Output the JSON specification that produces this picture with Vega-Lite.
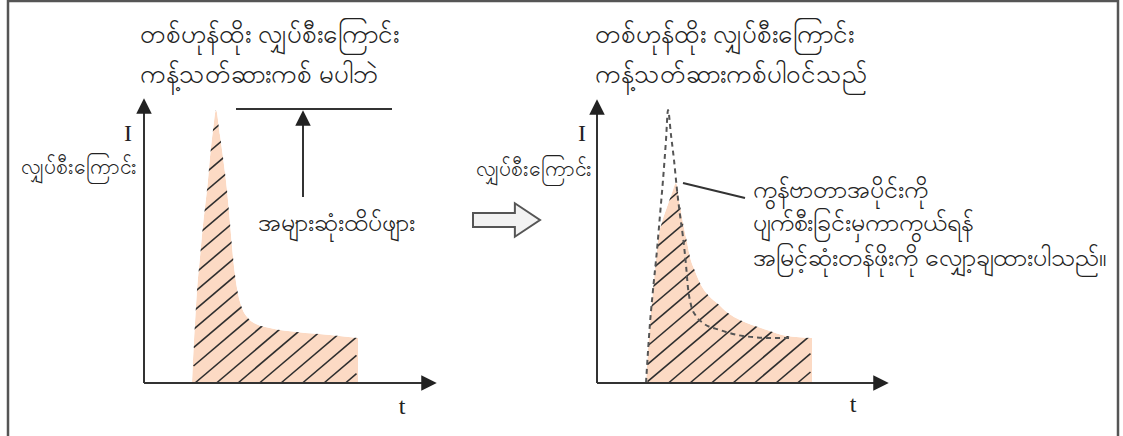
{
  "$schema": "https://vega.github.io/schema/vega-lite/v6.json",
  "width": 1123,
  "height": 436,
  "padding": 0,
  "autosize": "none",
  "background": "white",
  "config": {"view": {"stroke": null}},
  "datasets": {
    "curve": [
      {"panel": "A", "x": 192, "y": 383}, {"panel": "A", "x": 194, "y": 340}, {"panel": "A", "x": 195, "y": 323},
      {"panel": "A", "x": 197, "y": 290}, {"panel": "A", "x": 200, "y": 257}, {"panel": "A", "x": 203, "y": 225},
      {"panel": "A", "x": 205, "y": 207}, {"panel": "A", "x": 208, "y": 180}, {"panel": "A", "x": 210, "y": 157},
      {"panel": "A", "x": 213, "y": 130}, {"panel": "A", "x": 216, "y": 110}, {"panel": "A", "x": 220, "y": 135},
      {"panel": "A", "x": 224, "y": 165}, {"panel": "A", "x": 227, "y": 190}, {"panel": "A", "x": 230, "y": 223},
      {"panel": "A", "x": 233, "y": 257}, {"panel": "A", "x": 237, "y": 288}, {"panel": "A", "x": 242, "y": 308},
      {"panel": "A", "x": 248, "y": 318}, {"panel": "A", "x": 256, "y": 324}, {"panel": "A", "x": 270, "y": 328},
      {"panel": "A", "x": 297, "y": 332}, {"panel": "A", "x": 330, "y": 335}, {"panel": "A", "x": 358, "y": 338},
      {"panel": "B", "x": 646, "y": 383}, {"panel": "B", "x": 648, "y": 350}, {"panel": "B", "x": 650, "y": 323},
      {"panel": "B", "x": 653, "y": 290}, {"panel": "B", "x": 656, "y": 260}, {"panel": "B", "x": 658, "y": 240},
      {"panel": "B", "x": 662, "y": 222}, {"panel": "B", "x": 667, "y": 207}, {"panel": "B", "x": 672, "y": 193},
      {"panel": "B", "x": 676, "y": 183}, {"panel": "B", "x": 680, "y": 205}, {"panel": "B", "x": 683, "y": 223},
      {"panel": "B", "x": 687, "y": 242}, {"panel": "B", "x": 690, "y": 257}, {"panel": "B", "x": 695, "y": 271},
      {"panel": "B", "x": 700, "y": 283}, {"panel": "B", "x": 710, "y": 297}, {"panel": "B", "x": 717, "y": 303},
      {"panel": "B", "x": 728, "y": 313}, {"panel": "B", "x": 740, "y": 320}, {"panel": "B", "x": 755, "y": 326},
      {"panel": "B", "x": 767, "y": 330}, {"panel": "B", "x": 787, "y": 336}, {"panel": "B", "x": 812, "y": 338}
    ],
    "hatch": [
      {"x": 193.5, "y": 128.4, "x2": 215.2, "y2": 110}, {"x": 193.5, "y": 146.7, "x2": 236.7, "y2": 110},
      {"x": 193.5, "y": 165.0, "x2": 258.2, "y2": 110}, {"x": 193.5, "y": 183.2, "x2": 279.7, "y2": 110},
      {"x": 193.5, "y": 201.5, "x2": 301.2, "y2": 110}, {"x": 193.5, "y": 219.8, "x2": 322.7, "y2": 110},
      {"x": 193.5, "y": 238.1, "x2": 344.2, "y2": 110}, {"x": 193.5, "y": 256.3, "x2": 356.5, "y2": 117.8},
      {"x": 193.5, "y": 274.6, "x2": 356.5, "y2": 136.1}, {"x": 193.5, "y": 292.9, "x2": 356.5, "y2": 154.4},
      {"x": 193.5, "y": 311.2, "x2": 356.5, "y2": 172.7}, {"x": 193.5, "y": 329.4, "x2": 356.5, "y2": 190.9},
      {"x": 193.5, "y": 347.7, "x2": 356.5, "y2": 209.2}, {"x": 193.5, "y": 366.0, "x2": 356.5, "y2": 227.5},
      {"x": 195, "y": 383, "x2": 356.5, "y2": 245.8}, {"x": 216.5, "y": 383, "x2": 356.5, "y2": 264.0},
      {"x": 238, "y": 383, "x2": 356.5, "y2": 282.3}, {"x": 259.5, "y": 383, "x2": 356.5, "y2": 300.6},
      {"x": 281, "y": 383, "x2": 356.5, "y2": 318.9}, {"x": 302.5, "y": 383, "x2": 356.5, "y2": 337.1},
      {"x": 324, "y": 383, "x2": 356.5, "y2": 355.4}, {"x": 345.5, "y": 383, "x2": 356.5, "y2": 373.7},
      {"x": 647.5, "y": 199.8, "x2": 667.3, "y2": 183}, {"x": 647.5, "y": 218.1, "x2": 688.8, "y2": 183},
      {"x": 647.5, "y": 236.4, "x2": 710.3, "y2": 183}, {"x": 647.5, "y": 254.6, "x2": 731.8, "y2": 183},
      {"x": 647.5, "y": 272.9, "x2": 753.3, "y2": 183}, {"x": 647.5, "y": 291.2, "x2": 774.8, "y2": 183},
      {"x": 647.5, "y": 309.5, "x2": 796.3, "y2": 183}, {"x": 647.5, "y": 327.7, "x2": 810.5, "y2": 189.2},
      {"x": 647.5, "y": 346.0, "x2": 810.5, "y2": 207.5}, {"x": 647.5, "y": 364.3, "x2": 810.5, "y2": 225.8},
      {"x": 647.5, "y": 381.7, "x2": 810.5, "y2": 244.1}, {"x": 668.5, "y": 383, "x2": 810.5, "y2": 262.3},
      {"x": 690, "y": 383, "x2": 810.5, "y2": 280.6}, {"x": 711.5, "y": 383, "x2": 810.5, "y2": 298.9},
      {"x": 733, "y": 383, "x2": 810.5, "y2": 317.2}, {"x": 754.5, "y": 383, "x2": 810.5, "y2": 335.4},
      {"x": 776, "y": 383, "x2": 810.5, "y2": 353.7}, {"x": 797.5, "y": 383, "x2": 810.5, "y2": 372.0}
    ],
    "dashed": [
      {"x": 646, "y": 383}, {"x": 650, "y": 323}, {"x": 653, "y": 290}, {"x": 657, "y": 250},
      {"x": 660, "y": 215}, {"x": 663, "y": 180}, {"x": 666, "y": 140}, {"x": 668, "y": 110},
      {"x": 671, "y": 135}, {"x": 674, "y": 160}, {"x": 677, "y": 190}, {"x": 680, "y": 215},
      {"x": 683, "y": 237}, {"x": 686, "y": 265}, {"x": 688, "y": 288}, {"x": 691, "y": 305},
      {"x": 696, "y": 316}, {"x": 703, "y": 323}, {"x": 720, "y": 330}, {"x": 743, "y": 336},
      {"x": 773, "y": 338}, {"x": 792, "y": 338}
    ],
    "lines": [
      {"kind": "border", "x": 8, "y": 0, "x2": 8, "y2": 436},
      {"kind": "border", "x": 1118, "y": 0, "x2": 1118, "y2": 436},
      {"kind": "border", "x": 8, "y": 1, "x2": 1118, "y2": 1},
      {"kind": "axis", "x": 144, "y": 383, "x2": 144, "y2": 112},
      {"kind": "axis", "x": 144, "y": 383, "x2": 424, "y2": 383},
      {"kind": "axis", "x": 597, "y": 383, "x2": 597, "y2": 113},
      {"kind": "axis", "x": 597, "y": 383, "x2": 876, "y2": 383},
      {"kind": "note", "x": 236, "y": 109, "x2": 392, "y2": 109},
      {"kind": "note", "x": 303, "y": 197, "x2": 303, "y2": 122},
      {"kind": "note", "x": 683, "y": 183, "x2": 745, "y2": 198}
    ],
    "heads": [
      {"dir": "up", "x": 144, "y": 106},
      {"dir": "right", "x": 429, "y": 383},
      {"dir": "up", "x": 597, "y": 107},
      {"dir": "right", "x": 881, "y": 383},
      {"dir": "up", "x": 303, "y": 118}
    ],
    "bigarrow": [{"x": 506.5, "y": 220}],
    "texts": [
      {"role": "title", "x": 140, "y": 35, "text": "တစ်ဟုန်ထိုး လျှပ်စီးကြောင်း"},
      {"role": "title", "x": 140, "y": 75, "text": "ကန့်သတ်ဆားကစ် မပါဘဲ"},
      {"role": "title", "x": 595, "y": 35, "text": "တစ်ဟုန်ထိုး လျှပ်စီးကြောင်း"},
      {"role": "title", "x": 595, "y": 75, "text": "ကန့်သတ်ဆားကစ်ပါဝင်သည်"},
      {"role": "ylab", "x": 137, "y": 168, "text": "လျှပ်စီးကြောင်း"},
      {"role": "ylab", "x": 592, "y": 170, "text": "လျှပ်စီးကြောင်း"},
      {"role": "note", "x": 258, "y": 223, "text": "အများဆုံးထိပ်ဖျား"},
      {"role": "note", "x": 753, "y": 190, "text": "ကွန်ဗာတာအပိုင်းကို"},
      {"role": "note", "x": 753, "y": 223, "text": "ပျက်စီးခြင်းမှကာကွယ်ရန်"},
      {"role": "note", "x": 753, "y": 258, "text": "အမြင့်ဆုံးတန်ဖိုးကို လျှော့ချထားပါသည်။"},
      {"role": "sym", "x": 128, "y": 134, "text": "I"},
      {"role": "sym", "x": 582, "y": 134, "text": "I"},
      {"role": "sym", "x": 402, "y": 407, "text": "t"},
      {"role": "sym", "x": 853, "y": 405, "text": "t"}
    ]
  },
  "layer": [
    {
      "data": {"name": "curve"},
      "mark": {"type": "area", "interpolate": "monotone", "color": "#fcdac4", "opacity": 1},
      "encoding": {
        "x": {"field": "x", "type": "quantitative", "scale": {"domain": [0, 1123], "nice": false, "zero": false}, "axis": null},
        "y": {"field": "y", "type": "quantitative", "scale": {"domain": [0, 436], "nice": false, "zero": false, "reverse": true}, "axis": null},
        "y2": {"datum": 383},
        "detail": {"field": "panel"}
      }
    },
    {
      "data": {"name": "hatch"},
      "mark": {"type": "rule", "color": "#2e2e2e", "strokeWidth": 1.6},
      "encoding": {
        "x": {"field": "x", "type": "quantitative", "scale": {"domain": [0, 1123], "nice": false, "zero": false}, "axis": null},
        "y": {"field": "y", "type": "quantitative", "scale": {"domain": [0, 436], "nice": false, "zero": false, "reverse": true}, "axis": null},
        "x2": {"field": "x2"},
        "y2": {"field": "y2"}
      }
    },
    {
      "data": {"name": "curve"},
      "transform": [{"filter": "datum.panel === 'A'"}],
      "mark": {"type": "area", "interpolate": "monotone", "color": "white", "opacity": 1},
      "encoding": {
        "x": {"field": "x", "type": "quantitative", "scale": {"domain": [0, 1123], "nice": false, "zero": false}, "axis": null},
        "y": {"field": "y", "type": "quantitative", "scale": {"domain": [0, 436], "nice": false, "zero": false, "reverse": true}, "axis": null},
        "y2": {"datum": 105}
      }
    },
    {
      "data": {"name": "curve"},
      "transform": [{"filter": "datum.panel === 'B'"}],
      "mark": {"type": "area", "interpolate": "monotone", "color": "white", "opacity": 1},
      "encoding": {
        "x": {"field": "x", "type": "quantitative", "scale": {"domain": [0, 1123], "nice": false, "zero": false}, "axis": null},
        "y": {"field": "y", "type": "quantitative", "scale": {"domain": [0, 436], "nice": false, "zero": false, "reverse": true}, "axis": null},
        "y2": {"datum": 178}
      }
    },
    {
      "data": {"name": "dashed"},
      "mark": {"type": "line", "interpolate": "monotone", "color": "#555555", "strokeWidth": 2, "strokeDash": [5, 4]},
      "encoding": {
        "x": {"field": "x", "type": "quantitative", "scale": {"domain": [0, 1123], "nice": false, "zero": false}, "axis": null},
        "y": {"field": "y", "type": "quantitative", "scale": {"domain": [0, 436], "nice": false, "zero": false, "reverse": true}, "axis": null}
      }
    },
    {
      "data": {"name": "lines"},
      "transform": [{"filter": "datum.kind === 'border'"}],
      "mark": {"type": "rule", "color": "#555555", "strokeWidth": 2.5},
      "encoding": {
        "x": {"field": "x", "type": "quantitative", "scale": {"domain": [0, 1123], "nice": false, "zero": false}, "axis": null},
        "y": {"field": "y", "type": "quantitative", "scale": {"domain": [0, 436], "nice": false, "zero": false, "reverse": true}, "axis": null},
        "x2": {"field": "x2"},
        "y2": {"field": "y2"}
      }
    },
    {
      "data": {"name": "lines"},
      "transform": [{"filter": "datum.kind !== 'border'"}],
      "mark": {"type": "rule", "color": "#333333", "strokeWidth": 2},
      "encoding": {
        "x": {"field": "x", "type": "quantitative", "scale": {"domain": [0, 1123], "nice": false, "zero": false}, "axis": null},
        "y": {"field": "y", "type": "quantitative", "scale": {"domain": [0, 436], "nice": false, "zero": false, "reverse": true}, "axis": null},
        "x2": {"field": "x2"},
        "y2": {"field": "y2"}
      }
    },
    {
      "data": {"name": "heads"},
      "transform": [{"filter": "datum.dir === 'up'"}],
      "mark": {"type": "point", "shape": "M 0 -1 L 1 1 L -1 1 Z", "filled": true, "color": "#222222", "opacity": 1, "size": 240},
      "encoding": {
        "x": {"field": "x", "type": "quantitative", "scale": {"domain": [0, 1123], "nice": false, "zero": false}, "axis": null},
        "y": {"field": "y", "type": "quantitative", "scale": {"domain": [0, 436], "nice": false, "zero": false, "reverse": true}, "axis": null}
      }
    },
    {
      "data": {"name": "heads"},
      "transform": [{"filter": "datum.dir === 'right'"}],
      "mark": {"type": "point", "shape": "M 1 0 L -1 1 L -1 -1 Z", "filled": true, "color": "#222222", "opacity": 1, "size": 240},
      "encoding": {
        "x": {"field": "x", "type": "quantitative", "scale": {"domain": [0, 1123], "nice": false, "zero": false}, "axis": null},
        "y": {"field": "y", "type": "quantitative", "scale": {"domain": [0, 436], "nice": false, "zero": false, "reverse": true}, "axis": null}
      }
    },
    {
      "data": {"name": "bigarrow"},
      "mark": {"type": "point", "shape": "M -1 -0.21 L 0.25 -0.21 L 0.25 -0.5 L 1 0 L 0.25 0.5 L 0.25 0.21 L -1 0.21 Z", "filled": true, "fill": "#f2f2f2", "stroke": "#555555", "strokeWidth": 2, "opacity": 1, "size": 4489},
      "encoding": {
        "x": {"field": "x", "type": "quantitative", "scale": {"domain": [0, 1123], "nice": false, "zero": false}, "axis": null},
        "y": {"field": "y", "type": "quantitative", "scale": {"domain": [0, 436], "nice": false, "zero": false, "reverse": true}, "axis": null}
      }
    },
    {
      "data": {"name": "texts"},
      "transform": [{"filter": "datum.role === 'title'"}],
      "mark": {"type": "text", "align": "left", "baseline": "middle", "font": "Noto Sans", "fontSize": 26, "color": "#222222"},
      "encoding": {
        "x": {"field": "x", "type": "quantitative", "scale": {"domain": [0, 1123], "nice": false, "zero": false}, "axis": null},
        "y": {"field": "y", "type": "quantitative", "scale": {"domain": [0, 436], "nice": false, "zero": false, "reverse": true}, "axis": null},
        "text": {"field": "text"}
      }
    },
    {
      "data": {"name": "texts"},
      "transform": [{"filter": "datum.role === 'ylab'"}],
      "mark": {"type": "text", "align": "right", "baseline": "middle", "font": "Noto Sans", "fontSize": 21, "color": "#222222"},
      "encoding": {
        "x": {"field": "x", "type": "quantitative", "scale": {"domain": [0, 1123], "nice": false, "zero": false}, "axis": null},
        "y": {"field": "y", "type": "quantitative", "scale": {"domain": [0, 436], "nice": false, "zero": false, "reverse": true}, "axis": null},
        "text": {"field": "text"}
      }
    },
    {
      "data": {"name": "texts"},
      "transform": [{"filter": "datum.role === 'note'"}],
      "mark": {"type": "text", "align": "left", "baseline": "middle", "font": "Noto Sans", "fontSize": 25, "color": "#222222"},
      "encoding": {
        "x": {"field": "x", "type": "quantitative", "scale": {"domain": [0, 1123], "nice": false, "zero": false}, "axis": null},
        "y": {"field": "y", "type": "quantitative", "scale": {"domain": [0, 436], "nice": false, "zero": false, "reverse": true}, "axis": null},
        "text": {"field": "text"}
      }
    },
    {
      "data": {"name": "texts"},
      "transform": [{"filter": "datum.role === 'sym'"}],
      "mark": {"type": "text", "align": "center", "baseline": "middle", "font": "Liberation Serif", "fontSize": 24, "color": "#222222"},
      "encoding": {
        "x": {"field": "x", "type": "quantitative", "scale": {"domain": [0, 1123], "nice": false, "zero": false}, "axis": null},
        "y": {"field": "y", "type": "quantitative", "scale": {"domain": [0, 436], "nice": false, "zero": false, "reverse": true}, "axis": null},
        "text": {"field": "text"}
      }
    }
  ]
}
